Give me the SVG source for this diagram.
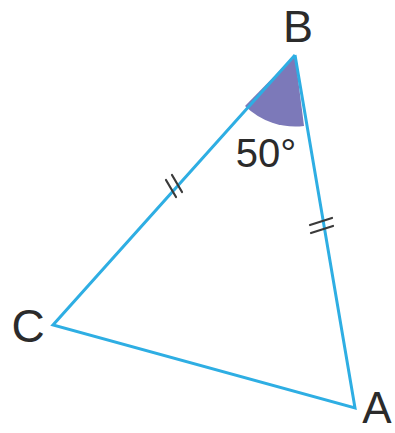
<svg xmlns="http://www.w3.org/2000/svg" width="395" height="433" viewBox="0 0 395 433">
<style>
.side{stroke:#2eaee3;stroke-width:3;fill:none;stroke-linejoin:miter}
.tick{stroke:#3a3a3a;stroke-width:2.2;stroke-linecap:round}
.lbl{font-family:"Liberation Sans",Arial,sans-serif;fill:#2b2b2b}
</style>
<rect width="395" height="433" fill="#ffffff"/>
<g id="angle-B">
<path d="M295,55 L245,106 A72,72 0 0 0 304,126 Z" fill="#7c79b9"/>
</g>
<g id="connectors">
<polyline class="side" points="295,55 53,325 355,408 295,55"/>
<line class="tick" x1="166" y1="180" x2="176" y2="197"/>
<line class="tick" x1="172" y1="175" x2="182" y2="192"/>
</g>
<g id="ticks-BA">
<line class="tick" x1="310" y1="225" x2="332" y2="218"/>
<line class="tick" x1="311" y1="233" x2="333" y2="226"/>
</g>
<g id="B"><text class="lbl" x="298" y="42" font-size="45" text-anchor="middle">B</text></g>
<g id="C"><text class="lbl" x="28" y="342" font-size="46" text-anchor="middle">C</text></g>
<g id="A"><text class="lbl" x="377" y="423" font-size="44" text-anchor="middle">A</text></g>
<g id="angle-label"><text class="lbl" x="266" y="167" font-size="40" text-anchor="middle">50°</text></g>
</svg>
